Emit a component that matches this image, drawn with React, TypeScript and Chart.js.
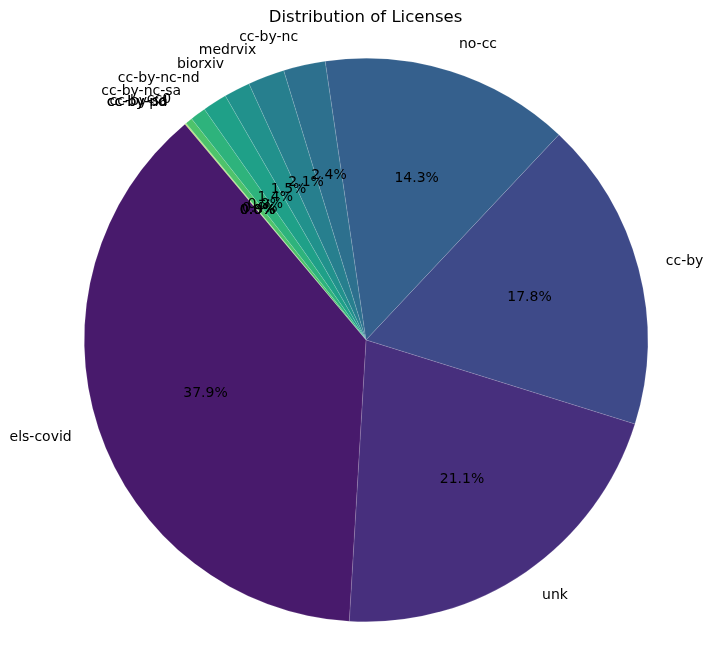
import React, { useEffect, useRef } from 'react';
import { Chart, registerables, Plugin } from 'chart.js';

Chart.register(...registerables);

// matplotlib order (counter-clockwise from 130°)
const licenses = ['els-covid', 'unk', 'cc-by', 'no-cc', 'cc-by-nc', 'medrvix', 'biorxiv', 'cc-by-nc-nd', 'cc-by-nc-sa', 'cc0', 'cc-by-sa', 'cc-by-nd', 'cc-by-pd'];
const shares = [37.9, 21.1, 17.8, 14.3, 2.4, 2.1, 1.5, 1.4, 0.9, 0.4, 0.04, 0.03, 0.02];
const colors = ['#481a6c', '#472f7d', '#3e4a89', '#35608d', '#2d708e', '#277f8e', '#21918c', '#1fa088', '#2eb37c', '#4ec36b', '#75d054', '#a2da37', '#d0e11c'];

const labelPlugin: Plugin<'pie'> = {
  id: 'mplLabels',
  afterDraw(chart) {
    const ctx = chart.ctx;
    const meta = chart.getDatasetMeta(0);
    const total = shares.reduce((a, b) => a + b, 0);
    ctx.save();
    ctx.fillStyle = '#000';
    ctx.font = '16.5px "DejaVu Sans"';
    ctx.textAlign = 'center';
    ctx.textBaseline = 'middle';
    ctx.fillText('Distribution of Licenses', chart.width / 2 + 9, 18);
    ctx.font = '14px "DejaVu Sans"';
    meta.data.forEach((el: any, i) => {
      const mid = (el.startAngle + el.endAngle) / 2;
      const r = el.outerRadius;
      const cx = el.x, cy = el.y;
      const lx = cx + Math.cos(mid) * r * 1.1;
      const ly = cy + Math.sin(mid) * r * 1.1;
      ctx.textAlign = Math.cos(mid) > 0 ? 'left' : 'right';
      ctx.fillText(String(chart.data.labels![i]), lx, ly);
      ctx.textAlign = 'center';
      const px = cx + Math.cos(mid) * r * 0.6;
      const py = cy + Math.sin(mid) * r * 0.6;
      const v = (chart.data.datasets[0].data[i] as number) / total * 100;
      ctx.fillText(v.toFixed(1) + '%', px, py);
    });
    ctx.restore();
  },
};

const App: React.FC = () => {
  const canvasRef = useRef<HTMLCanvasElement | null>(null);

  useEffect(() => {
    if (!canvasRef.current) return;
    // Chart.js goes clockwise, so reverse to mimic the counter-clockwise layout
    const chart = new Chart(canvasRef.current, {
      type: 'pie',
      data: {
        labels: [...licenses].reverse(),
        datasets: [{
          data: [...shares].reverse(),
          backgroundColor: [...colors].reverse(),
          borderColor: 'rgba(255,255,255,0.25)',
          borderWidth: 0.5,
        }],
      },
      options: {
        responsive: false,
        animation: false,
        rotation: -40,
        layout: { padding: { top: 58, bottom: 36, left: 84, right: 65 } },
        plugins: { legend: { display: false }, tooltip: { enabled: false } },
      },
      plugins: [labelPlugin],
    });
    return () => chart.destroy();
  }, []);

  return (
    <div style={{ width: 713, height: 658, margin: -8 }}>
      <canvas ref={canvasRef} width={713} height={658} style={{ display: 'block' }} />
    </div>
  );
};

export default App;
